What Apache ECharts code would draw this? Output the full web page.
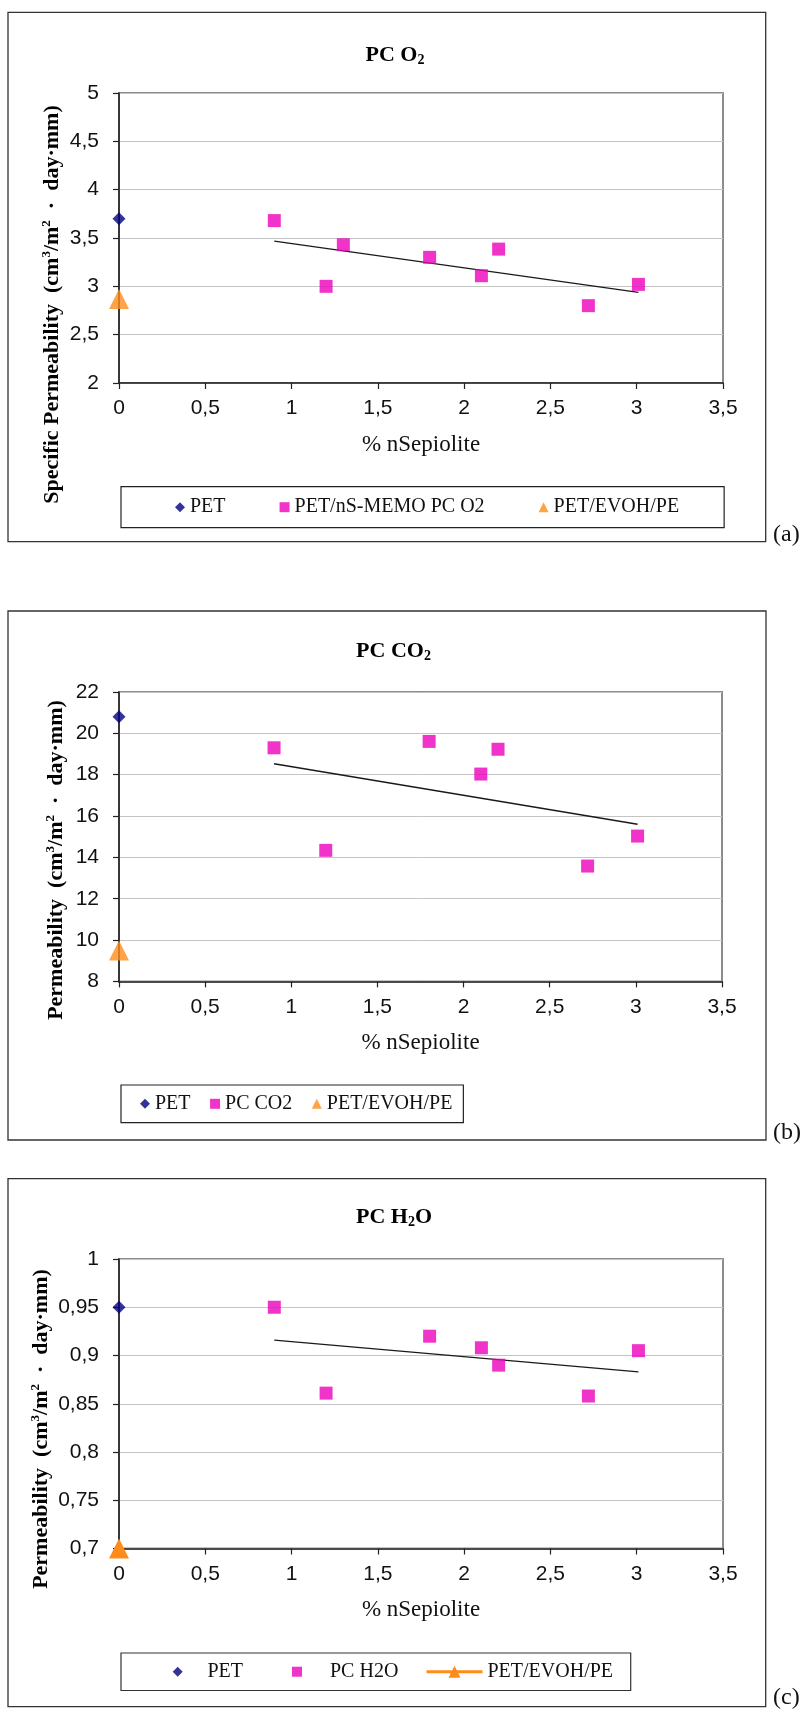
<!DOCTYPE html>
<html><head><meta charset="utf-8">
<script src="https://cdn.jsdelivr.net/npm/echarts@6/dist/echarts.min.js"></script>
<style>html,body{margin:0;padding:0;background:#fff}#c{width:803px;height:1716px}</style>
</head><body><div id="c"></div>
<script>
// ---------- data ----------
const xRange = [0, 3.5, 0.5];           // min, max, interval (% nSepiolite)
// (a) PC O2
const aPET  = [[0, 3.70]];
const aX    = [0.9, 1.2, 1.3, 1.8, 2.1, 2.2, 2.72, 3.01];
const aY    = [3.68, 3.00, 3.43, 3.30, 3.11, 3.385, 2.80, 3.02];
const aEVOH = [[0, 2.87]];
const aYRange = [2, 5, 0.5];
// (b) PC CO2
const bPET  = [[0, 20.8]];
const bX    = [0.9, 1.2, 1.8, 2.1, 2.2, 2.72, 3.01];
const bY    = [19.30, 14.34, 19.61, 18.03, 19.23, 13.58, 15.03];
const bEVOH = [[0, 9.5]];
const bYRange = [8, 22, 2];
// (c) PC H2O
const cPET  = [[0, 0.95]];
const cX    = [0.9, 1.2, 1.8, 2.1, 2.2, 2.72, 3.01];
const cY    = [0.950, 0.861, 0.920, 0.908, 0.890, 0.858, 0.905];
const cEVOH = [[0, 0.70]];
const cYRange = [0.7, 1, 0.05];

const seriesNames = {
  a: ['PET#a', 'PET/nS-MEMO PC O2', 'PET/EVOH/PE#a'],
  b: ['PET#b', 'PC CO2', 'PET/EVOH/PE#b'],
  c: ['PET#c', 'PC H2O', 'PET/EVOH/PE#c']
};

// ---------- helpers ----------
const SERIF = "'Liberation Serif','Times New Roman',serif";
const SANS = "'Liberation Sans',Arial,sans-serif";
const C_PET = '#000080', C_PINK = '#ec00bb', C_ORANGE = '#ff8c1a';

function zip(xs, ys) { return xs.map((x, i) => [x, ys[i]]); }
function trend(xs, ys) {
  const n = xs.length;
  const mx = xs.reduce((s, v) => s + v, 0) / n;
  const my = ys.reduce((s, v) => s + v, 0) / n;
  let sxy = 0, sxx = 0;
  for (let i = 0; i < n; i++) { sxy += (xs[i] - mx) * (ys[i] - my); sxx += (xs[i] - mx) ** 2; }
  const k = sxy / sxx, b = my - k * mx;
  const x0 = Math.min(...xs), x1 = Math.max(...xs);
  return [[x0, k * x0 + b], [x1, k * x1 + b]];
}
const fmt = v => String(Math.round(v * 100) / 100).replace('.', ',');

const grids = [
  { left: 119, top: 93, width: 604, height: 290 },
  { left: 119, top: 692, width: 603, height: 289.4 },
  { left: 119, top: 1259, width: 604, height: 289.5 }
].map(g => Object.assign(g, { show: true, borderColor: '#8c8c8c', borderWidth: 2, backgroundColor: 'transparent' }));

function xAxisFor(i) {
  return {
    type: 'value', gridIndex: i, min: xRange[0], max: xRange[1], interval: xRange[2],
    name: '% nSepiolite', nameLocation: 'middle', nameGap: 50,
    nameTextStyle: { fontFamily: SERIF, fontSize: 23, color: '#111' },
    axisLine: { show: true, onZero: false, lineStyle: { color: '#222', width: 1.6 } },
    axisTick: { show: true, length: 6, lineStyle: { color: '#222', width: 1.2 } },
    axisLabel: { margin: 15, fontFamily: SANS, fontSize: 21, color: '#111', formatter: fmt },
    splitLine: { show: false }
  };
}
function yAxisFor(i, r) {
  return {
    type: 'value', gridIndex: i, min: r[0], max: r[1], interval: r[2],
    axisLine: { show: true, onZero: false, lineStyle: { color: '#222', width: 1.6 } },
    axisTick: { show: true, length: 6, lineStyle: { color: '#222', width: 1.2 } },
    axisLabel: { margin: 20, fontFamily: SANS, fontSize: 21, color: '#111', formatter: fmt },
    splitLine: { show: true, lineStyle: { color: '#c4c4c4', width: 1 } }
  };
}

function seriesFor(i, key, pet, xs, ys, evoh, lineEvoh) {
  const nm = seriesNames[key];
  const out = [
    { name: nm[0], type: 'scatter', xAxisIndex: i, yAxisIndex: i, data: pet, symbol: 'diamond', symbolSize: [13, 13], itemStyle: { color: C_PET }, clip: false, z: 5 },
    { name: nm[1], type: 'scatter', xAxisIndex: i, yAxisIndex: i, data: zip(xs, ys), symbol: 'rect', symbolSize: 13, itemStyle: { color: C_PINK }, clip: false, z: 4 },
    { name: 'trend' + key, type: 'line', xAxisIndex: i, yAxisIndex: i, data: trend(xs, ys), symbol: 'none', silent: true, lineStyle: { color: '#1a1a1a', width: 1.3 }, z: 3 }
  ];
  if (lineEvoh) {
    out.push({ name: nm[2], type: 'line', xAxisIndex: i, yAxisIndex: i, data: evoh, symbol: 'triangle', symbolSize: 20, showSymbol: true, itemStyle: { color: C_ORANGE }, lineStyle: { color: C_ORANGE, width: 3 }, clip: false, z: 5 });
  } else {
    out.push({ name: nm[2], type: 'scatter', xAxisIndex: i, yAxisIndex: i, data: evoh, symbol: 'triangle', symbolSize: 20, itemStyle: { color: C_ORANGE }, clip: false, z: 5 });
  }
  return out;
}

const legendBase = {
  orient: 'horizontal', borderColor: '#222', borderWidth: 1.2, selectedMode: false,
  textStyle: { fontFamily: SERIF, fontSize: 20, color: '#111' },
  formatter: n => n.split('#')[0],
  itemWidth: 10, itemHeight: 10
};
// (c) legend: one component per entry, framed by a graphic rect
function cLegend(name, left, gap, extra) {
  return Object.assign({}, legendBase, {
    data: [name], left: left, top: 1661.7, padding: 0, borderWidth: 0, itemGap: 0,
    formatter: n => '{g|}' + n.split('#')[0],
    textStyle: { fontFamily: SERIF, fontSize: 20, color: '#111', rich: { g: { width: gap } } }
  }, extra || {});
}
const legends = [
  Object.assign({}, legendBase, { data: seriesNames.a, left: 121, top: 486.7, padding: [10.5, 45, 10.5, 54], itemGap: 54 }),
  Object.assign({}, legendBase, { data: seriesNames.b, left: 121, top: 1085, padding: [8.8, 11, 8.8, 19], itemGap: 19.5 }),
  cLegend(seriesNames.c[0], 172.7, 19.7),
  cLegend(seriesNames.c[1], 292, 23),
  cLegend(seriesNames.c[2], 425, 0, { itemWidth: 56, itemHeight: 15, lineStyle: { width: 3 }, top: 1661.7 })
];

function box(x, y, w, h, lw) {
  return { type: 'rect', shape: { x: x, y: y, width: w, height: h }, style: { fill: 'transparent', stroke: '#333', lineWidth: lw }, silent: true, z: 0 };
}
const titleRich = {
  t: { fontFamily: SERIF, fontSize: 22, fontWeight: 'bold', color: '#111' },
  s: { fontFamily: SERIF, fontSize: 14, fontWeight: 'bold', color: '#111', padding: [10, 0, 0, 0] }
};
function title(x, y, txt) {
  return { type: 'text', x: x, y: y, silent: true, style: { text: txt, rich: titleRich, align: 'center', verticalAlign: 'middle' } };
}
const nameRich = {
  n: { fontFamily: SERIF, fontSize: 22, fontWeight: 'bold', color: '#111' },
  p: { fontFamily: SERIF, fontSize: 13, fontWeight: 'bold', color: '#111', padding: [0, 0, 10, 0] }
};
function yName(x, y, txt) {
  return { type: 'text', x: x, y: y, rotation: Math.PI / 2, silent: true, style: { text: txt, rich: nameRich, align: 'center', verticalAlign: 'middle' } };
}
function tag(y, txt) {
  return { type: 'text', x: 773, y: y, silent: true, style: { text: txt, fontFamily: SERIF, fontSize: 24, fill: '#111', align: 'left', verticalAlign: 'middle' } };
}
const unitTail = '{n|  (cm}{p|3}{n|/m}{p|2}{n|  ·  day·mm)}';

const option = {
  animation: false,
  backgroundColor: '#fff',
  grid: grids,
  xAxis: [xAxisFor(0), xAxisFor(1), xAxisFor(2)],
  yAxis: [yAxisFor(0, aYRange), yAxisFor(1, bYRange), yAxisFor(2, cYRange)],
  legend: legends,
  series: [].concat(
    seriesFor(0, 'a', aPET, aX, aY, aEVOH, false),
    seriesFor(1, 'b', bPET, bX, bY, bEVOH, false),
    seriesFor(2, 'c', cPET, cX, cY, cEVOH, true)
  ),
  graphic: [
    box(8, 12.3, 757.7, 529.4, 1.3), box(8, 611, 758, 529, 1.3), box(8, 1178.7, 757.7, 528, 1.3),
    box(121, 1653, 509.7, 37.5, 1.2),
    title(395, 55, '{t|PC O}{s|2}'),
    title(393.5, 651, '{t|PC CO}{s|2}'),
    title(394, 1217, '{t|PC H}{s|2}{t|O}'),
    yName(52, 304.5, '{n|Specific Permeability}' + unitTail),
    yName(56, 860, '{n|Permeability}' + unitTail),
    yName(41, 1429, '{n|Permeability}' + unitTail),
    tag(535, '(a)'), tag(1133, '(b)'), tag(1698, '(c)')
  ]
};
const chart = echarts.init(document.getElementById('c'), null, { renderer: 'canvas' });
chart.setOption(option);
</script>
</body></html>
